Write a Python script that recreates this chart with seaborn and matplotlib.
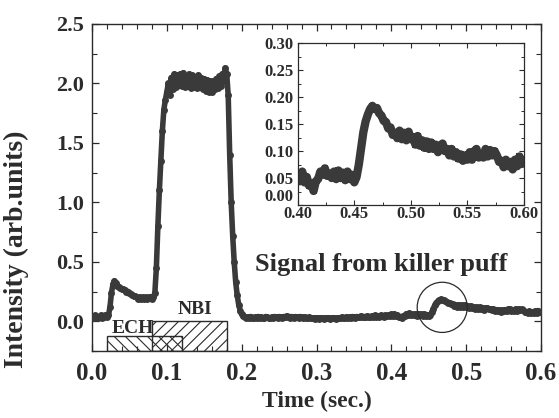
import numpy as np
import pandas as pd
import seaborn as sns
import matplotlib.pyplot as plt
from matplotlib.patches import Ellipse
from matplotlib.ticker import MultipleLocator, FuncFormatter

# Signal 0.000 - 0.398 s, sampled every 2 ms
i_early = [
    0.04, 0.03, 0.05, 0.04, 0.03, 0.04, 0.05, 0.03, 0.04, 0.05, 0.04,
    0.05, 0.12, 0.24, 0.31, 0.34, 0.32, 0.30, 0.29, 0.28, 0.27, 0.27, 0.26, 0.25, 0.25, 0.24,
    0.23, 0.22, 0.21, 0.21, 0.20, 0.19, 0.20, 0.19, 0.20, 0.19, 0.20, 0.19, 0.20, 0.20, 0.19, 0.20,
    0.24, 0.45, 0.80, 1.10, 1.35, 1.60, 1.78, 1.86, 1.93,
    2.00, 1.90, 2.05, 1.95, 2.08, 1.97, 2.07, 1.99, 2.08, 1.98,
    2.09, 1.97, 2.06, 1.98, 2.08, 1.96, 2.07, 1.97, 2.05, 1.96,
    2.07, 1.97, 2.05, 1.95, 2.04, 1.94, 2.03, 1.93, 2.02, 1.93,
    2.02, 1.95, 2.04, 1.96, 2.06, 1.98, 2.08, 2.02, 2.13, 2.08,
    1.90, 1.40, 1.00, 0.72, 0.50, 0.33, 0.22, 0.14, 0.09, 0.06, 0.045,
    0.04, 0.03, 0.035, 0.03, 0.04, 0.03, 0.025, 0.035, 0.03, 0.04,
    0.03, 0.035, 0.025, 0.03, 0.04, 0.035, 0.03, 0.025, 0.035, 0.03,
    0.04, 0.035, 0.03, 0.04, 0.035, 0.03, 0.04, 0.035, 0.045, 0.035,
    0.03, 0.04, 0.035, 0.03, 0.04, 0.035, 0.03, 0.04, 0.035, 0.03,
    0.035, 0.03, 0.025, 0.035, 0.03, 0.025, 0.03, 0.02, 0.03, 0.025,
    0.02, 0.03, 0.025, 0.02, 0.03, 0.025, 0.03, 0.02, 0.025, 0.03,
    0.025, 0.02, 0.03, 0.025, 0.03, 0.035, 0.025, 0.03, 0.035, 0.03,
    0.035, 0.03, 0.04, 0.035, 0.03, 0.04, 0.035, 0.04, 0.045, 0.035,
    0.04, 0.035, 0.045, 0.04, 0.035, 0.045, 0.04, 0.05, 0.04, 0.045,
    0.04, 0.05, 0.045, 0.04, 0.05, 0.045, 0.05, 0.045,
]

# Signal 0.400 - 0.600 s (killer puff), sampled every 2 ms
i_puff = [
    0.058, 0.044, 0.062, 0.042, 0.052, 0.036, 0.040, 0.026, 0.044, 0.048,
    0.062, 0.056, 0.068, 0.054, 0.058, 0.050, 0.062, 0.048, 0.064, 0.050,
    0.060, 0.046, 0.062, 0.048, 0.056, 0.042, 0.052, 0.075, 0.105, 0.135,
    0.155, 0.168, 0.178, 0.184, 0.178, 0.180, 0.170, 0.166, 0.156, 0.154,
    0.142, 0.144, 0.130, 0.134, 0.124, 0.138, 0.122, 0.134, 0.120, 0.136,
    0.122, 0.126, 0.112, 0.128, 0.110, 0.120, 0.106, 0.118, 0.104, 0.116,
    0.104, 0.112, 0.098, 0.110, 0.114, 0.100, 0.104, 0.092, 0.104, 0.090,
    0.098, 0.086, 0.094, 0.082, 0.092, 0.084, 0.098, 0.084, 0.100, 0.104,
    0.088, 0.094, 0.088, 0.104, 0.090, 0.102, 0.092, 0.100, 0.092, 0.080,
    0.082, 0.070, 0.084, 0.072, 0.080, 0.066, 0.084, 0.072, 0.090, 0.076,
    0.082,
]

t_early = np.arange(len(i_early)) * 0.002
t_puff = 0.400 + np.arange(len(i_puff)) * 0.002

# heating phases (start, end, top of the bar)
heat_names = ["ECH", "NBI"]
heat_start = [0.02, 0.08]
heat_end = [0.12, 0.18]
heat_top = [-0.125, 0.0]
heat_hatch = ["\\\\\\", "///"]

df = pd.DataFrame({"t": np.concatenate([t_early, t_puff]),
                   "I": np.concatenate([i_early, i_puff])})
df_puff = pd.DataFrame({"t": t_puff, "I": i_puff})

sns.set_style("ticks")
plt.rcParams["font.family"] = ["Liberation Serif", "DejaVu Serif"]
plt.rcParams["font.weight"] = "bold"
plt.rcParams["hatch.linewidth"] = 0.8
ink = "#2b2b2b"
dots = "#3a3a3a"

fig = plt.figure(figsize=(5.59, 4.18), dpi=100)
ax = fig.add_axes([0.1646, 0.1603, 0.8032, 0.7823])

ybot = -0.25
for name, s, e, top, h in zip(heat_names, heat_start, heat_end, heat_top, heat_hatch):
    ax.bar(s, top - ybot, width=e - s, bottom=ybot, align="edge",
           facecolor="none", edgecolor=ink, hatch=h, linewidth=1.0, zorder=1)

sns.lineplot(data=df, x="t", y="I", ax=ax, color=dots, linewidth=4.0,
             marker="o", markersize=5, markeredgewidth=0, zorder=3)

ax.text(0.054, -0.10, "ECH", fontsize=14, fontweight="bold", color=ink,
        ha="center", va="baseline", zorder=4)
ax.text(0.137, 0.065, "NBI", fontsize=14, fontweight="bold", color=ink,
        ha="center", va="baseline", zorder=4)
ax.text(0.387, 0.42, "Signal from killer puff", fontsize=19, fontweight="bold",
        color=ink, ha="center", va="baseline")
ax.add_patch(Ellipse((0.468, 0.117), 0.0669, 0.422, facecolor="none",
                     edgecolor=ink, linewidth=0.9, zorder=5))

ax.set_xlim(0, 0.6)
ax.set_ylim(ybot, 2.5)
ax.xaxis.set_major_locator(MultipleLocator(0.1))
ax.xaxis.set_minor_locator(MultipleLocator(0.02))
ax.yaxis.set_major_locator(MultipleLocator(0.5))
ax.yaxis.set_minor_locator(MultipleLocator(0.25))
ax.xaxis.set_major_formatter(FuncFormatter(lambda v, p: f"{v:.1f}"))
ax.yaxis.set_major_formatter(FuncFormatter(lambda v, p: f"{v:.1f}"))
ax.tick_params(which="both", direction="in", top=True, right=True, color=ink)
ax.tick_params(which="major", length=5, width=0.9)
ax.tick_params(which="minor", length=3.5, width=0.8)
ax.tick_params(axis="x", labelsize=18, pad=8, labelcolor=ink)
ax.tick_params(axis="y", labelsize=16, pad=6, labelcolor=ink)
ax.set_xlabel("Time (sec.)", fontsize=17, fontweight="bold", color=ink, labelpad=4)
ax.set_ylabel("Intensity (arb.units)", fontsize=20, fontweight="bold", color=ink)
ax.yaxis.set_label_coords(-0.14, 0.312)
for sp in ax.spines.values():
    sp.set_linewidth(1.0)
    sp.set_color(ink)

# inset: zoom on the killer puff
axin = fig.add_axes([0.5326, 0.5096, 0.4048, 0.3868])
sns.lineplot(data=df_puff, x="t", y="I", ax=axin, color=dots, linewidth=6,
             marker="s", markersize=5, markeredgewidth=0)
axin.set_xlim(0.40, 0.60)
axin.set_ylim(0.0, 0.30)
axin.xaxis.set_major_locator(MultipleLocator(0.05))
axin.xaxis.set_minor_locator(MultipleLocator(0.025))
axin.yaxis.set_major_locator(MultipleLocator(0.05))
axin.yaxis.set_minor_locator(MultipleLocator(0.025))
axin.xaxis.set_major_formatter(FuncFormatter(lambda v, p: f"{v:.2f}"))
# the "0.00" label sits a little higher than its tick (drawn separately below)
axin.yaxis.set_major_formatter(FuncFormatter(lambda v, p: "" if abs(v) < 1e-9 else f"{v:.2f}"))
axin.tick_params(which="both", direction="in", top=True, right=True, color=ink)
axin.tick_params(which="major", length=3.5, width=0.8)
axin.tick_params(which="minor", length=2.5, width=0.7)
axin.tick_params(axis="x", labelsize=12, pad=1, labelcolor=ink)
axin.tick_params(axis="y", labelsize=12, pad=3, labelcolor=ink)
axin.annotate("0.00", xy=(0, 0), xycoords="axes fraction", xytext=(-3, 6),
              textcoords="offset points", ha="right", va="center",
              fontsize=12, fontweight="bold", color=ink)
axin.set_xlabel("")
axin.set_ylabel("")
for sp in axin.spines.values():
    sp.set_linewidth(0.9)
    sp.set_color(ink)

fig.savefig("out.png", dpi=100)
